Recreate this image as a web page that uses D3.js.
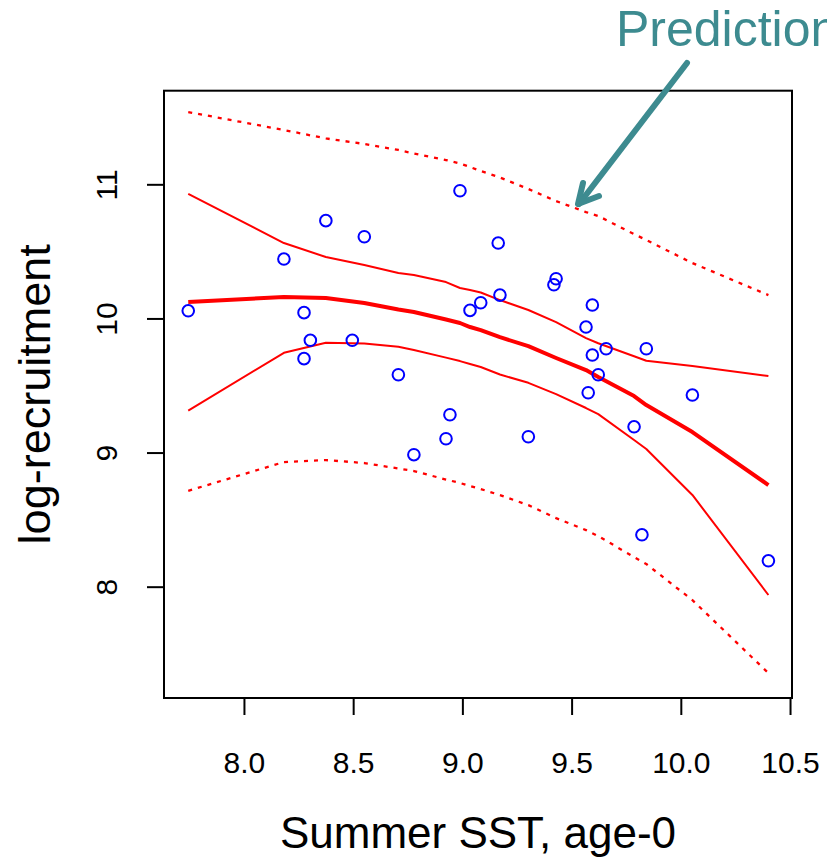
<!DOCTYPE html>
<html>
<head>
<meta charset="utf-8">
<script src="https://cdn.jsdelivr.net/npm/d3@7"></script>
<style>
  html, body { margin: 0; padding: 0; background: #fff; }
  svg { display: block; font-family: "Liberation Sans", Arial, Helvetica, sans-serif; }
</style>
</head>
<body>
<svg id="chart" width="827" height="865"></svg>
<script>
// Observed points
const sstObs = [7.745, 8.183, 8.375, 8.551, 8.275, 8.304, 8.275, 8.496, 8.707, 8.778,
                8.925, 8.943, 8.989, 9.035, 9.084, 9.164, 9.172, 9.302, 9.429, 9.419,
                9.566, 9.595, 9.595, 9.622, 9.576, 9.658, 9.842, 9.786, 9.822, 10.053, 10.401];
const recObs = [10.057, 10.443, 10.729, 10.609, 10.043, 9.837, 9.700, 9.837, 9.580, 8.984,
                9.103, 9.282, 10.952, 10.060, 10.117, 10.562, 10.174, 9.118, 10.296, 10.251,
                9.936, 10.100, 9.727, 9.580, 9.446, 9.774, 9.774, 9.192, 8.387, 9.429, 8.193];

// Fitted curve and intervals at sorted SST values
const sstGrid   = [7.745, 8.183, 8.375, 8.551, 8.707, 8.778, 8.925, 8.989, 9.035, 9.084,
                   9.172, 9.302, 9.429, 9.566, 9.622, 9.786, 9.842, 10.053, 10.401];
const fitY      = [10.122, 10.160, 10.152, 10.115, 10.066, 10.048, 9.992, 9.966, 9.936, 9.913,
                   9.860, 9.793, 9.705, 9.615, 9.563, 9.421, 9.354, 9.153, 8.758];
const ciUpper   = [10.928, 10.562, 10.458, 10.398, 10.339, 10.324, 10.271, 10.227, 10.212, 10.193,
                   10.137, 10.063, 9.972, 9.853, 9.815, 9.718, 9.685, 9.645, 9.570];
const ciLower   = [9.312, 9.744, 9.819, 9.813, 9.789, 9.764, 9.708, 9.682, 9.660, 9.638,
                   9.582, 9.520, 9.436, 9.332, 9.287, 9.094, 9.026, 8.684, 7.938];
const predUpper = [11.539, 11.405, 11.342, 11.301, 11.256, 11.230, 11.181, 11.155, 11.129, 11.099,
                   11.051, 10.965, 10.875, 10.793, 10.764, 10.629, 10.585, 10.413, 10.174];
const predLower = [8.715, 8.929, 8.944, 8.922, 8.881, 8.862, 8.799, 8.773, 8.750, 8.728,
                   8.683, 8.608, 8.511, 8.422, 8.377, 8.221, 8.169, 7.900, 7.356];

const xTicks = [8.0, 8.5, 9.0, 9.5, 10.0, 10.5];
const yTicks = [8, 9, 10, 11];

const xLabel = "Summer SST, age-0";
const yLabel = "log-recruitment";
const annotation = "Prediction";

const svg = d3.select("#chart");
const box = { left: 164, right: 792, top: 90.7, bottom: 698 };

const x = d3.scaleLinear().domain([7.634, 10.509]).range([box.left, box.right]);
const y = d3.scaleLinear().domain([7.170, 11.698]).range([box.bottom, box.top]);

const red = "#ff0000";
const blue = "#0000ff";
const teal = "#3d8b90";

// Lines
const line = d3.line().x(d => x(d[0])).y(d => y(d[1]));
function drawSeries(vals, width, dash) {
  svg.append("path")
    .datum(sstGrid.map((s, i) => [s, vals[i]]))
    .attr("d", line)
    .attr("fill", "none")
    .attr("stroke", red)
    .attr("stroke-width", width)
    .attr("stroke-dasharray", dash || null)
    .attr("stroke-linejoin", "round");
}
drawSeries(predUpper, 2.3, "4,6");
drawSeries(predLower, 2.3, "4,6");
drawSeries(ciUpper, 2);
drawSeries(ciLower, 2);
drawSeries(fitY, 4);

// Points
svg.append("g").selectAll("circle")
  .data(sstObs.map((s, i) => [s, recObs[i]]))
  .join("circle")
  .attr("cx", d => x(d[0]))
  .attr("cy", d => y(d[1]))
  .attr("r", 5.8)
  .attr("fill", "none")
  .attr("stroke", blue)
  .attr("stroke-width", 2);

// Box
svg.append("rect")
  .attr("x", box.left).attr("y", box.top)
  .attr("width", box.right - box.left).attr("height", box.bottom - box.top)
  .attr("fill", "none").attr("stroke", "#000").attr("stroke-width", 2);

// X axis
const gx = svg.append("g")
  .attr("transform", `translate(0,${box.bottom})`)
  .call(d3.axisBottom(x).tickValues(xTicks).tickSize(17).tickPadding(37).tickFormat(d3.format(".1f")));
gx.select(".domain").remove();
gx.selectAll(".tick line").attr("stroke", "#000").attr("stroke-width", 2);
gx.selectAll(".tick text").attr("font-size", 30).attr("fill", "#000")
  .attr("font-family", "Liberation Sans, Arial, sans-serif");

// Y axis
const gy = svg.append("g")
  .attr("transform", `translate(${box.left},0)`)
  .call(d3.axisLeft(y).tickValues(yTicks).tickSize(17).tickFormat(d3.format("d")));
gy.select(".domain").remove();
gy.selectAll(".tick line").attr("stroke", "#000").attr("stroke-width", 2);
gy.selectAll(".tick text")
  .attr("x", null).attr("dy", null)
  .attr("text-anchor", "middle")
  .attr("transform", "translate(-47,0) rotate(-90)")
  .attr("font-size", 30).attr("fill", "#000")
  .attr("font-family", "Liberation Sans, Arial, sans-serif");

// Axis titles
svg.append("text")
  .attr("x", (box.left + box.right) / 2).attr("y", 848)
  .attr("text-anchor", "middle").attr("font-size", 44).attr("fill", "#000")
  .text(xLabel);
svg.append("text")
  .attr("transform", `translate(50,${(box.top + box.bottom) / 2}) rotate(-90)`)
  .attr("text-anchor", "middle").attr("font-size", 45).attr("fill", "#000")
  .text(yLabel);

// Annotation (cut off at the right edge, as in the reference)
svg.append("text")
  .attr("x", 616).attr("y", 46)
  .attr("font-size", 50).attr("fill", teal)
  .text(annotation);
svg.append("line")
  .attr("x1", 687).attr("y1", 63).attr("x2", 579).attr("y2", 204)
  .attr("stroke", teal).attr("stroke-width", 6).attr("stroke-linecap", "round");
svg.append("polyline")
  .attr("points", "583,183 578,204 599,196")
  .attr("fill", "none").attr("stroke", teal).attr("stroke-width", 6)
  .attr("stroke-linecap", "round").attr("stroke-linejoin", "round");
</script>
</body>
</html>
